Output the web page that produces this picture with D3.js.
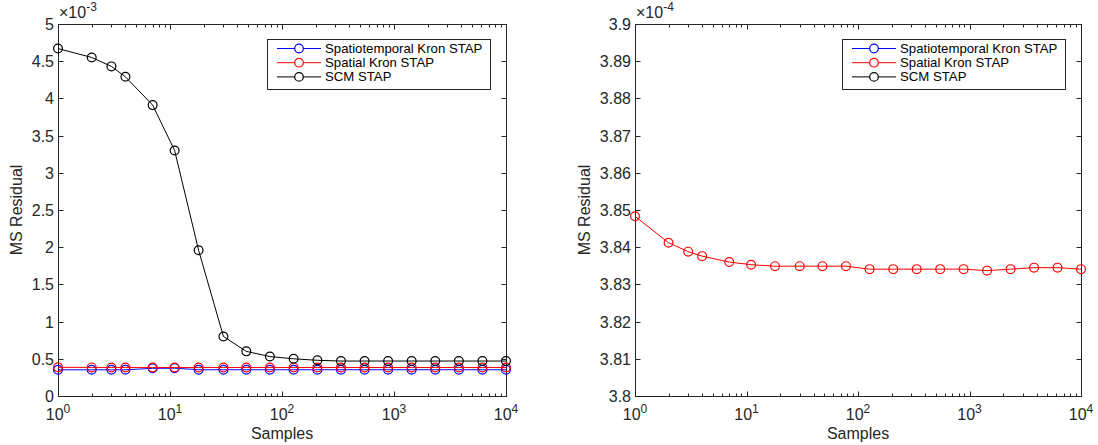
<!DOCTYPE html>
<html>
<head>
<meta charset="utf-8">
<script src="https://cdn.jsdelivr.net/npm/d3@7"></script>
<style>
	body { margin: 0; background: #fff; }
	svg { display: block; font-family: "Liberation Sans", Arial, sans-serif; }
</style>
</head>
<body>
<svg id="chart" width="1098" height="445"></svg>
<script>
// sample counts along the x axis
var samples = [1, 2, 3, 4, 7, 11, 18, 30, 48, 78, 127, 207, 336, 546, 886, 1438, 2336, 3793, 6158, 10000];

// MS residual per method
var spatiotemporalKron = [3.52e-4, 3.52e-4, 3.52e-4, 3.52e-4, 3.72e-4, 3.74e-4, 3.53e-4, 3.53e-4, 3.53e-4, 3.53e-4,
	3.53e-4, 3.53e-4, 3.53e-4, 3.53e-4, 3.53e-4, 3.53e-4, 3.53e-4, 3.53e-4, 3.53e-4, 3.53e-4];
var spatialKron = [3.8483e-4, 3.8412e-4, 3.8388e-4, 3.8376e-4, 3.8360e-4, 3.8353e-4, 3.8349e-4, 3.8349e-4, 3.8349e-4, 3.8349e-4,
	3.8341e-4, 3.8341e-4, 3.8341e-4, 3.8341e-4, 3.8341e-4, 3.8337e-4, 3.8341e-4, 3.8345e-4, 3.8345e-4, 3.8341e-4];
var scm = [4.67e-3, 4.55e-3, 4.43e-3, 4.29e-3, 3.91e-3, 3.30e-3, 1.96e-3, 0.80e-3, 0.60e-3, 0.53e-3,
	0.50e-3, 0.48e-3, 0.47e-3, 0.47e-3, 0.47e-3, 0.47e-3, 0.47e-3, 0.47e-3, 0.47e-3, 0.47e-3];

var seriesNames = ["Spatiotemporal Kron STAP", "Spatial Kron STAP", "SCM STAP"];
var seriesColors = ["#0000ff", "#ff0000", "#000000"];

var xTicks = [1, 10, 100, 1000, 10000];
var leftYTicks = [0, 0.5, 1, 1.5, 2, 2.5, 3, 3.5, 4, 4.5, 5];
var rightYTicks = [3.8, 3.81, 3.82, 3.83, 3.84, 3.85, 3.86, 3.87, 3.88, 3.89, 3.9];

var axisColor = "#262626";
var svg = d3.select("#chart");

function drawPanel(id, left, right, top, bottom, exponent, yTicks) {
	var mult = Math.pow(10, exponent);
	var x = d3.scaleLog().domain([1, 10000]).range([left, right]);
	var y = d3.scaleLinear().domain([yTicks[0] * mult, yTicks[yTicks.length - 1] * mult]).range([bottom, top]);

	var g = svg.append("g");

	g.append("clipPath").attr("id", "clip" + id)
		.append("rect")
		.attr("x", left - 6).attr("y", top)
		.attr("width", right - left + 12).attr("height", bottom - top);

	// axes box
	g.append("rect")
		.attr("x", left + 0.5).attr("y", top + 0.5)
		.attr("width", right - left).attr("height", bottom - top)
		.attr("fill", "none").attr("stroke", axisColor).attr("stroke-width", 1);

	// x ticks, major and minor, bottom and top
	var minor = [];
	for (var k = 0; k < 4; k++) {
		for (var m = 2; m < 10; m++) minor.push(m * Math.pow(10, k));
	}
	var xt = xTicks.map(function(v) { return { v: v, len: 5 }; })
		.concat(minor.map(function(v) { return { v: v, len: 3 }; }));
	xt.forEach(function(t) {
		var px = Math.round(x(t.v)) + 0.5;
		g.append("line").attr("x1", px).attr("x2", px)
			.attr("y1", bottom + 0.5).attr("y2", bottom + 0.5 - t.len)
			.attr("stroke", axisColor);
		g.append("line").attr("x1", px).attr("x2", px)
			.attr("y1", top + 0.5).attr("y2", top + 0.5 + t.len)
			.attr("stroke", axisColor);
	});

	xTicks.forEach(function(v) {
		var t = g.append("text")
			.attr("x", x(v)).attr("y", bottom + 24)
			.attr("text-anchor", "middle")
			.attr("font-size", 16).attr("fill", axisColor);
		t.append("tspan").text("10");
		t.append("tspan").attr("dy", -7).attr("font-size", 12).text(Math.round(Math.log10(v)));
	});

	// y ticks, left and right
	var maxW = 0;
	yTicks.forEach(function(v) {
		var py = Math.round(y(v * mult)) + 0.5;
		g.append("line").attr("x1", left + 0.5).attr("x2", left + 5.5)
			.attr("y1", py).attr("y2", py).attr("stroke", axisColor);
		g.append("line").attr("x1", right + 0.5).attr("x2", right - 4.5)
			.attr("y1", py).attr("y2", py).attr("stroke", axisColor);
		var lbl = g.append("text")
			.attr("x", left - 4).attr("y", py + 5.5)
			.attr("text-anchor", "end")
			.attr("font-size", 16).attr("fill", axisColor)
			.text(v);
		maxW = Math.max(maxW, lbl.node().getComputedTextLength());
	});

	// exponent label
	var ex = g.append("text")
		.attr("x", left + 1).attr("y", top - 6)
		.attr("font-size", 16).attr("fill", axisColor);
	ex.append("tspan").text("\u00d710");
	ex.append("tspan").attr("dy", -7).attr("font-size", 12).text(exponent);

	g.append("text")
		.attr("x", (left + right) / 2).attr("y", bottom + 43)
		.attr("text-anchor", "middle")
		.attr("font-size", 16).attr("fill", axisColor)
		.text("Samples");

	g.append("text")
		.attr("transform", "translate(" + (left - maxW - 14) + "," + ((top + bottom) / 2) + ") rotate(-90)")
		.attr("text-anchor", "middle")
		.attr("font-size", 16).attr("fill", axisColor)
		.text("MS Residual");

	// series
	var plot = g.append("g").attr("clip-path", "url(#clip" + id + ")");
	var line = d3.line()
		.x(function(d) { return x(d[0]); })
		.y(function(d) { return y(d[1]); });

	[spatiotemporalKron, spatialKron, scm].forEach(function(vals, i) {
		var pts = samples.map(function(s, j) { return [s, vals[j]]; });
		plot.append("path")
			.datum(pts)
			.attr("d", line)
			.attr("fill", "none")
			.attr("stroke", seriesColors[i])
			.attr("stroke-width", 1);
		plot.selectAll(null)
			.data(pts)
			.enter()
			.append("circle")
			.attr("cx", function(d) { return x(d[0]); })
			.attr("cy", function(d) { return y(d[1]); })
			.attr("r", 4.4)
			.attr("fill", "none")
			.attr("stroke", seriesColors[i])
			.attr("stroke-width", 1.2);
	});

	// legend
	var lx = right - 239, ly = 39;
	g.append("rect")
		.attr("x", lx + 0.5).attr("y", ly + 0.5)
		.attr("width", 223).attr("height", 50)
		.attr("fill", "#fff").attr("stroke", axisColor);
	seriesNames.forEach(function(name, i) {
		var ry = ly + 9.5 + i * 14.2;
		g.append("line")
			.attr("x1", lx + 10).attr("x2", lx + 54)
			.attr("y1", ry).attr("y2", ry)
			.attr("stroke", seriesColors[i]);
		g.append("circle")
			.attr("cx", lx + 32).attr("cy", ry).attr("r", 4.3)
			.attr("fill", "#fff").attr("stroke", seriesColors[i]).attr("stroke-width", 1.2);
		g.append("text")
			.attr("x", lx + 58).attr("y", ry + 4.5)
			.attr("font-size", 13.2).attr("fill", "#000")
			.text(name);
	});
}

drawPanel("L", 58, 506, 24, 396, -3, leftYTicks);
drawPanel("R", 635, 1081, 24, 396, -4, rightYTicks);
</script>
</body>
</html>
